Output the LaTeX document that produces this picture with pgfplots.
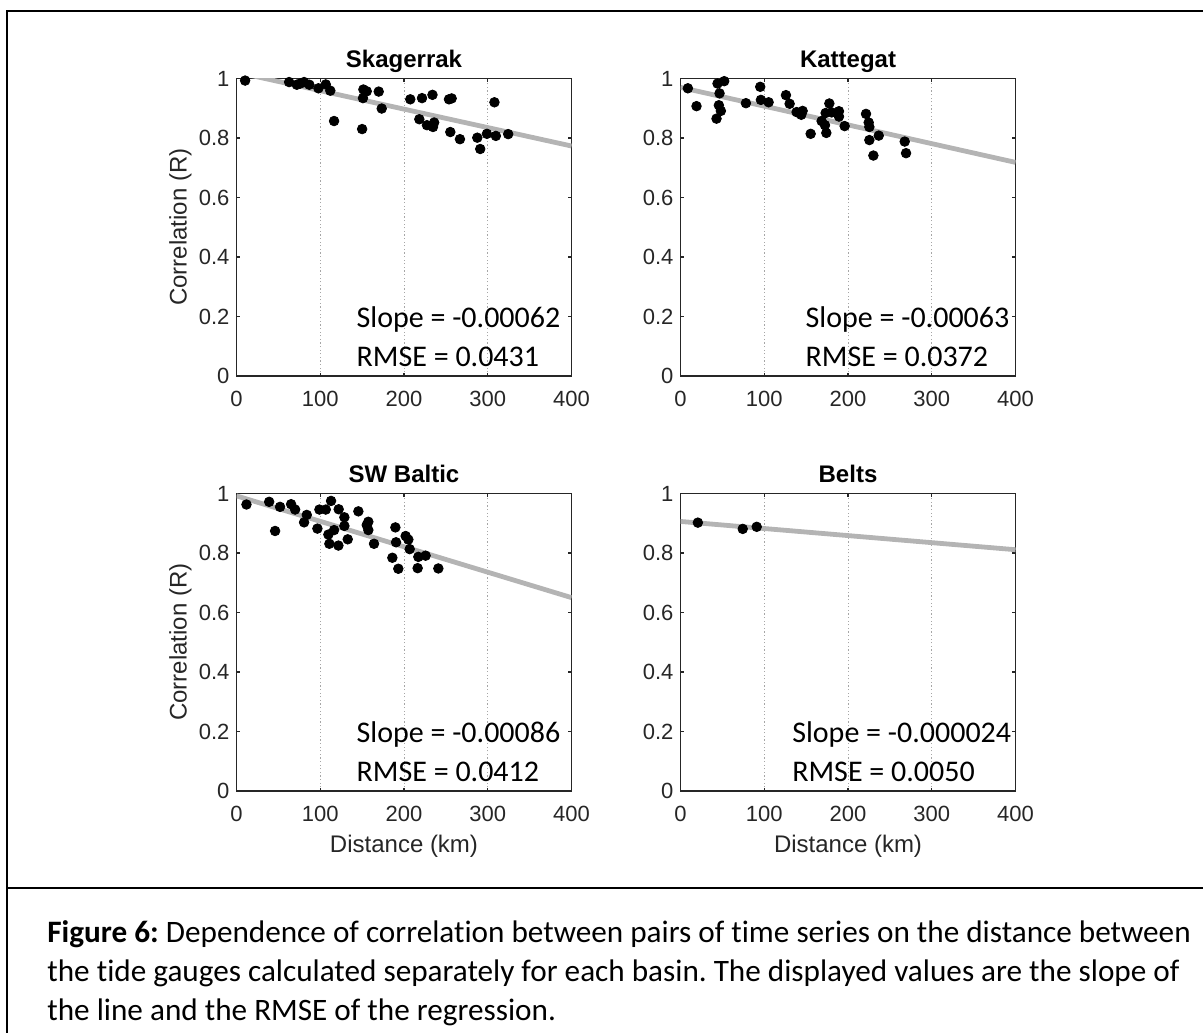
\documentclass[border=0pt]{standalone}
\usepackage{fontspec}
\setmainfont{Liberation Sans}
\newfontfamily\calibri[Ligatures=NoCommon]{Carlito}
\usepackage{pgfplots}
\pgfplotsset{compat=1.18}
\frenchspacing

\definecolor{axgray}{RGB}{38,38,38}
\definecolor{linegray}{RGB}{180,180,180}

\pgfplotsset{
  panel/.style={
    scale only axis, width=167.5pt, height=148.75pt,
    xmin=0, xmax=400, ymin=0, ymax=1,
    xtick={0,100,200,300,400}, ytick={0,0.2,0.4,0.6,0.8,1},
    tick align=inside, tick pos=both,
    xticklabel pos=bottom, yticklabel pos=left,
    major tick length=1.7pt,
    xmajorgrids,
    grid style={dash pattern=on 0.6pt off 1.2pt, color=black!35, line width=0.45pt},
    axis line style={axgray, line width=0.7pt},
    every tick/.append style={axgray, line width=0.7pt},
    tick label style={font=\fontsize{11}{13}\selectfont, text=axgray},
    /pgf/number format/assume math mode=true,
    xticklabel shift=4pt,
    every axis title/.style={font=\bfseries\fontsize{12}{14}\selectfont, at={(axis description cs:0.5,1)}, anchor=base, yshift=5.5pt},
    every axis x label/.style={at={(axis description cs:0.5,0)}, anchor=center, yshift=-27.5pt, font=\fontsize{12}{14}\selectfont, text=axgray},
    every axis y label/.style={at={(axis description cs:0,0.5)}, xshift=-28pt, rotate=90, anchor=center, font=\fontsize{12}{14}\selectfont, text=axgray},
  },
  pts/.style={only marks, mark=*, mark size=2.4pt, black},
  fit/.style={linegray, line width=2.4pt},
}
\tikzset{note/.style={anchor=base west, inner sep=0pt, font=\calibri\fontsize{15}{18}\selectfont}}

\begin{document}
\begin{tikzpicture}
\useasboundingbox (0pt,0pt) rectangle (601.5pt,516pt);

% Skagerrak
\begin{axis}[panel, at={(118.25pt,328pt)}, anchor=south west,
  title={Skagerrak}, ylabel={Correlation (R)}]
\addplot[fit] coordinates {(0,1.021) (400,0.773)};
\addplot[pts] coordinates {
(10.3,0.993) (62.8,0.988) (72,0.979) (76,0.983) (80.7,0.988) (87,0.979)
(97.8,0.967) (106.6,0.980) (112,0.959) (116.5,0.857) (150,0.830) (151.5,0.963)
(155.5,0.957) (151,0.934) (169.8,0.956) (173.4,0.899) (207.5,0.930) (221.5,0.934)
(234,0.945) (218.3,0.863) (227.4,0.843) (234.6,0.837) (236,0.852) (253.7,0.930)
(256.9,0.933) (255.3,0.820) (266.8,0.796) (287.5,0.801) (291,0.763) (299,0.814)
(308,0.920) (309.7,0.807) (324.4,0.813)
};
\node[note] at (axis cs:143,0.164) {Slope = -0.00062};
\node[note] at (axis cs:143,0.033) {RMSE = 0.0431};
\end{axis}

% Kattegat
\begin{axis}[panel, at={(340.25pt,328pt)}, anchor=south west,
  title={Kattegat}]
\addplot[fit] coordinates {(0,0.970) (400,0.718)};
\addplot[pts] coordinates {
(8.8,0.967) (19.1,0.907) (44.2,0.983) (52.2,0.991) (46.6,0.950) (45.8,0.910)
(48.2,0.891) (43,0.865) (78.1,0.917) (95.2,0.972) (96,0.928) (105.2,0.920)
(125.9,0.944) (130.3,0.915) (138.6,0.887) (145.8,0.891) (144.2,0.878) (155.4,0.814)
(177.7,0.916) (173.3,0.884) (180.5,0.886) (189.2,0.890) (189.2,0.872) (168.5,0.857)
(172.5,0.843) (174.1,0.817) (196,0.840) (221.5,0.881) (224.7,0.852) (225.5,0.837)
(225.5,0.793) (230.3,0.741) (236.7,0.808) (267.7,0.788) (269.3,0.749)
};
\node[note] at (axis cs:149,0.164) {Slope = -0.00063};
\node[note] at (axis cs:149,0.033) {RMSE = 0.0372};
\end{axis}

% SW Baltic
\begin{axis}[panel, at={(118.25pt,120.5pt)}, anchor=south west,
  title={SW Baltic}, ylabel={Correlation (R)}, xlabel={Distance (km)}]
\addplot[fit] coordinates {(0,0.992) (400,0.650)};
\addplot[pts] coordinates {
(11.9,0.963) (39,0.972) (52,0.955) (46.1,0.874) (65.2,0.964) (70,0.946)
(83.9,0.928) (80.7,0.903) (96.6,0.882) (99,0.946) (106.6,0.946) (112.9,0.975)
(122,0.947) (128.8,0.920) (128.8,0.891) (116.5,0.877) (109.7,0.862) (110.9,0.831)
(121.7,0.825) (132.8,0.846) (145.5,0.940) (157.4,0.905) (155.5,0.894) (157.4,0.877)
(164.2,0.831) (189.7,0.886) (190.5,0.836) (186.1,0.784) (193.2,0.747) (202,0.857)
(205.2,0.845) (206.8,0.813) (217.1,0.787) (225.8,0.791) (216.3,0.749) (241,0.748)
};
\node[note] at (axis cs:143,0.164) {Slope = -0.00086};
\node[note] at (axis cs:143,0.033) {RMSE = 0.0412};
\end{axis}

% Belts
\begin{axis}[panel, at={(340.25pt,120.5pt)}, anchor=south west,
  title={Belts}, xlabel={Distance (km)}]
\addplot[fit] coordinates {(0,0.906) (400,0.811)};
\addplot[pts] coordinates {(20.7,0.902) (74.3,0.881) (91,0.888)};
\node[note] at (axis cs:133,0.164) {Slope = -0.000024};
\node[note] at (axis cs:133,0.033) {RMSE = 0.0050};
\end{axis}

% frame and caption
\draw[line width=1.4pt] (3.5pt,-2pt) -- (3.5pt,510.5pt) -- (604pt,510.5pt);
\draw[line width=1.4pt] (3.5pt,72pt) -- (604pt,72pt);
\begin{scope}[every node/.style={anchor=base west, inner sep=0pt, font=\calibri\fontsize{15.6}{19.5}\selectfont}]
\node at (23.5pt,44.5pt) {\textbf{Figure 6:} Dependence of correlation between pairs of time series on the distance between};
\node at (23.5pt,25pt) {the tide gauges calculated separately for each basin. The displayed values are the slope of};
\node at (23.5pt,5.5pt) {the line and the RMSE of the regression.};
\end{scope}
\end{tikzpicture}
\end{document}
